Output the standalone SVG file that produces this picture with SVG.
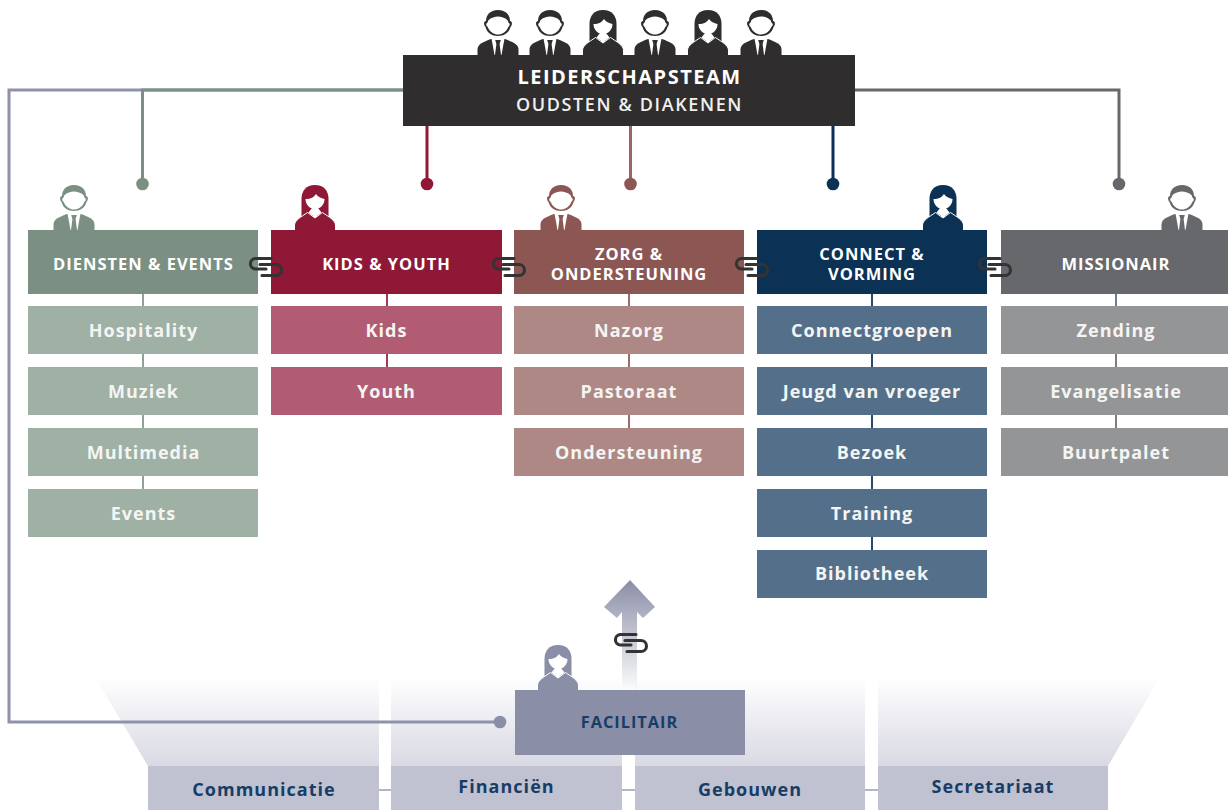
<svg xmlns="http://www.w3.org/2000/svg" xmlns:xlink="http://www.w3.org/1999/xlink" width="1228" height="810" viewBox="0 0 1228 810">
<style>
text{font-family:"Open Sans","Noto Sans","Liberation Sans",sans-serif;text-anchor:middle;font-weight:700}
.h{font-size:16.5px;letter-spacing:1px;fill:#fff}
.s{font-size:18px;letter-spacing:1px;fill:#f4f5f3}
.b{font-size:18px;letter-spacing:1.02px;fill:#173d66}
.l{fill:none;stroke-width:3}
.t{fill:none;stroke-width:2}
.lnk{fill:none;stroke:#333;stroke-width:3.1;stroke-linecap:round}
</style>
<defs>
<linearGradient id="fan" x1="0" y1="0" x2="0" y2="1"><stop offset="0" stop-color="#fff"/><stop offset="1" stop-color="#d8d9e3"/></linearGradient>
<linearGradient id="arr" gradientUnits="userSpaceOnUse" x1="0" y1="580" x2="0" y2="688"><stop offset="0" stop-color="#8a8ea6"/><stop offset="1" stop-color="#8a8ea6" stop-opacity=".04"/></linearGradient>
<g id="man">
<path fill="currentColor" d="M0-45C8-45 12-40 12-34C14.500-34 14.500-30 12.500-28C11-22 6-19 0-19C-6-19-11-22-12.500-28C-14.500-30-14.500-34-12-34C-12-40-8-45 0-45Z"/>
<path fill="#fff" d="M0-38.500C3-38.500 7-37.500 9.800-34.500C10-32 11.800-32 11.800-30.500C11.800-29 10.300-28.500 9.800-27C8-23 4-20.500 0-20.500C-4-20.500-8-23-9.800-27C-10.300-28.500-11.800-29-11.800-30.500C-11.800-32-10-32-9.800-34.500C-7-37.500-3-38.500 0-38.500Z"/>
<path fill="currentColor" d="M-20.500 0V-6C-20-11-15-13-7-16H7C15-13 20-11 20.500-6V0Z"/>
<path fill="#fff" d="M-6.500-16.500H6.500L3.500 0H-3.500Z"/>
<path fill="currentColor" d="M-2.800-15H2.800L1.600-11L3 0H-3L-1.600-11Z"/>
</g>
<g id="woman">
<path fill="currentColor" d="M0-45C9-45 13.500-39 13.500-31V-14H-13.500V-31C-13.500-39-9-45 0-45Z"/>
<path fill="#fff" d="M-9.500-31C-4-31-1-33 1-36C3-33 6-32 9.500-31C9.500-25 5-21 0-21C-5-21-9.500-25-9.500-31Z"/>
<path fill="currentColor" stroke="#fff" stroke-width="1" d="M-20.500 1V-5C-20-10-14-13-7.500-17.500L0-12L7.500-17.500C14-13 20-10 20.500-5V1Z"/>
<path fill="#fff" d="M-3-22H3L6.500-17.500L0-12.500L-6.500-17.500Z"/>
</g>
<g id="link">
<path class="lnk" d="M6-8.500H-10A5.300 5.300 0 0 0-10 2H1"/>
<path class="lnk" d="M-5-2.500H11A5.300 5.300 0 0 1 11 8.500H-3"/>
</g>
</defs>

<g id="fans">
<path fill="url(#fan)" d="M95 677H379V766H148Z"/>
<rect x="391" y="677" width="231" height="89" fill="url(#fan)"/>
<rect x="635" y="677" width="230" height="89" fill="url(#fan)"/>
<path fill="url(#fan)" d="M878 677H1160L1108 766H878Z"/>
</g>

<g id="connectors">
<path class="l" stroke="#8e93ab" d="M403 90H9V722H500"/>
<path class="l" stroke="#7b9082" d="M403 90H142.500V184"/>
<path class="l" stroke="#67686c" d="M855 90H1119V184"/>
<path class="l" stroke="#8e1835" d="M427 126V184"/>
<path class="l" stroke="#9a6664" d="M630.500 126V184"/>
<path class="l" stroke="#0b3154" d="M833 126V184"/>
<circle cx="142.500" cy="184" r="6.300" fill="#7b9082"/>
<circle cx="427" cy="184" r="6.300" fill="#8e1835"/>
<circle cx="630.500" cy="184" r="6.300" fill="#8c5653"/>
<circle cx="833" cy="184" r="6.300" fill="#0b3154"/>
<circle cx="1119" cy="184" r="6.300" fill="#67686c"/>
<circle cx="500" cy="722" r="6.300" fill="#8a8ea6"/>
<path class="t" stroke="#8fa295" d="M143 294V489"/>
<path class="t" stroke="#a03a55" d="M387 294V367"/>
<path class="t" stroke="#9a6c69" d="M629 294V428"/>
<path class="t" stroke="#26496c" d="M872 294V550"/>
<path class="t" stroke="#6b7f99" d="M1116 294V306"/>
<path class="t" stroke="#7d7e81" d="M1116 354V428"/>
<path class="t" stroke="#b4b6c8" d="M379 790H391M622 790H635M865 790H878"/>
</g>

<polygon id="arrow" fill="url(#arr)" points="630,580 655,607 643,618 637,612 637,690 622,690 622,612 617,618 604,607"/>

<g id="leiderschapsteam">
<g color="#2f2d2e">
<use xlink:href="#man" href="#man" x="498" y="55"/>
<use xlink:href="#man" href="#man" x="550" y="55"/>
<use xlink:href="#woman" href="#woman" x="603" y="55"/>
<use xlink:href="#man" href="#man" x="655" y="55"/>
<use xlink:href="#woman" href="#woman" x="708" y="55"/>
<use xlink:href="#man" href="#man" x="761" y="55"/>
</g>
<rect x="403" y="55" width="452" height="71" fill="#2f2d2e"/>
<text x="629.500" y="84" font-size="20" letter-spacing="1.500" fill="#fff">LEIDERSCHAPSTEAM</text>
<text x="629.500" y="111" font-size="18" letter-spacing="1.620" fill="#f1f0ee" style="font-weight:600">OUDSTEN &amp; DIAKENEN</text>
</g>

<g id="diensten-events">
<use xlink:href="#man" href="#man" x="74" y="230" color="#7b9082"/>
<rect x="28" y="230" width="230" height="64" fill="#7b9082"/>
<text class="h" x="143.500" y="270">DIENSTEN &amp; EVENTS</text>
</g>
<g id="hospitality"><rect x="28" y="306" width="230" height="48" fill="#9fb0a4"/><text class="s" x="143.500" y="337">Hospitality</text></g>
<g id="muziek"><rect x="28" y="367" width="230" height="48" fill="#9fb0a4"/><text class="s" x="143.500" y="398">Muziek</text></g>
<g id="multimedia"><rect x="28" y="428" width="230" height="48" fill="#9fb0a4"/><text class="s" x="143.500" y="459">Multimedia</text></g>
<g id="events"><rect x="28" y="489" width="230" height="48" fill="#9fb0a4"/><text class="s" x="143.500" y="520">Events</text></g>

<g id="kids-youth">
<use xlink:href="#woman" href="#woman" x="315" y="230" color="#8e1835"/>
<rect x="271" y="230" width="231" height="64" fill="#8e1835"/>
<text class="h" x="386.500" y="270">KIDS &amp; YOUTH</text>
</g>
<g id="kids"><rect x="271" y="306" width="231" height="48" fill="#b15c72"/><text class="s" x="386.500" y="337">Kids</text></g>
<g id="youth"><rect x="271" y="367" width="231" height="48" fill="#b15c72"/><text class="s" x="386.500" y="398">Youth</text></g>

<g id="zorg-ondersteuning">
<use xlink:href="#man" href="#man" x="561" y="230" color="#8c5653"/>
<rect x="514" y="230" width="230" height="64" fill="#8c5653"/>
<text class="h"><tspan x="629" y="260">ZORG &amp;</tspan><tspan x="629" y="280">ONDERSTEUNING</tspan></text>
</g>
<g id="nazorg"><rect x="514" y="306" width="230" height="48" fill="#ae8885"/><text class="s" x="629" y="337">Nazorg</text></g>
<g id="pastoraat"><rect x="514" y="367" width="230" height="48" fill="#ae8885"/><text class="s" x="629" y="398">Pastoraat</text></g>
<g id="ondersteuning"><rect x="514" y="428" width="230" height="48" fill="#ae8885"/><text class="s" x="629" y="459">Ondersteuning</text></g>

<g id="connect-vorming">
<use xlink:href="#woman" href="#woman" x="943" y="230" color="#0b3154"/>
<rect x="757" y="230" width="230" height="64" fill="#0b3154"/>
<text class="h"><tspan x="872" y="260">CONNECT &amp;</tspan><tspan x="872" y="280">VORMING</tspan></text>
</g>
<g id="connectgroepen"><rect x="757" y="306" width="230" height="48" fill="#546f8a"/><text class="s" x="872" y="337">Connectgroepen</text></g>
<g id="jeugd-van-vroeger"><rect x="757" y="367" width="230" height="48" fill="#546f8a"/><text class="s" x="872" y="398">Jeugd van vroeger</text></g>
<g id="bezoek"><rect x="757" y="428" width="230" height="48" fill="#546f8a"/><text class="s" x="872" y="459">Bezoek</text></g>
<g id="training"><rect x="757" y="489" width="230" height="48" fill="#546f8a"/><text class="s" x="872" y="520">Training</text></g>
<g id="bibliotheek"><rect x="757" y="550" width="230" height="48" fill="#546f8a"/><text class="s" x="872" y="580">Bibliotheek</text></g>

<g id="missionair">
<use xlink:href="#man" href="#man" x="1182" y="230" color="#67686c"/>
<rect x="1001" y="230" width="230" height="64" fill="#67686c"/>
<text class="h" x="1116" y="270">MISSIONAIR</text>
</g>
<g id="zending"><rect x="1001" y="306" width="230" height="48" fill="#949597"/><text class="s" x="1116" y="337">Zending</text></g>
<g id="evangelisatie"><rect x="1001" y="367" width="230" height="48" fill="#949597"/><text class="s" x="1116" y="398">Evangelisatie</text></g>
<g id="buurtpalet"><rect x="1001" y="428" width="230" height="48" fill="#949597"/><text class="s" x="1116" y="459">Buurtpalet</text></g>

<g id="links">
<use xlink:href="#link" href="#link" x="265" y="267"/>
<use xlink:href="#link" href="#link" x="508" y="267"/>
<use xlink:href="#link" href="#link" x="751" y="267"/>
<use xlink:href="#link" href="#link" x="994" y="267"/>
<use xlink:href="#link" href="#link" x="630" y="643"/>
</g>

<g id="facilitair">
<use xlink:href="#woman" href="#woman" x="558" y="690" color="#8a8ea6"/>
<rect x="515" y="690" width="230" height="65" fill="#8a8ea6"/>
<text x="629.500" y="728" font-size="16.300" letter-spacing="1" fill="#173d66">FACILITAIR</text>
</g>
<g id="communicatie"><rect x="148" y="766" width="231" height="44" fill="#c0c2d1"/><text class="b" x="264" y="796">Communicatie</text></g>
<g id="financien"><rect x="391" y="766" width="231" height="44" fill="#c0c2d1"/><text class="b" x="506.500" y="793">Financiën</text></g>
<g id="gebouwen"><rect x="635" y="766" width="230" height="44" fill="#c0c2d1"/><text class="b" x="750" y="796">Gebouwen</text></g>
<g id="secretariaat"><rect x="878" y="766" width="230" height="44" fill="#c0c2d1"/><text class="b" x="993" y="793">Secretariaat</text></g>
</svg>
